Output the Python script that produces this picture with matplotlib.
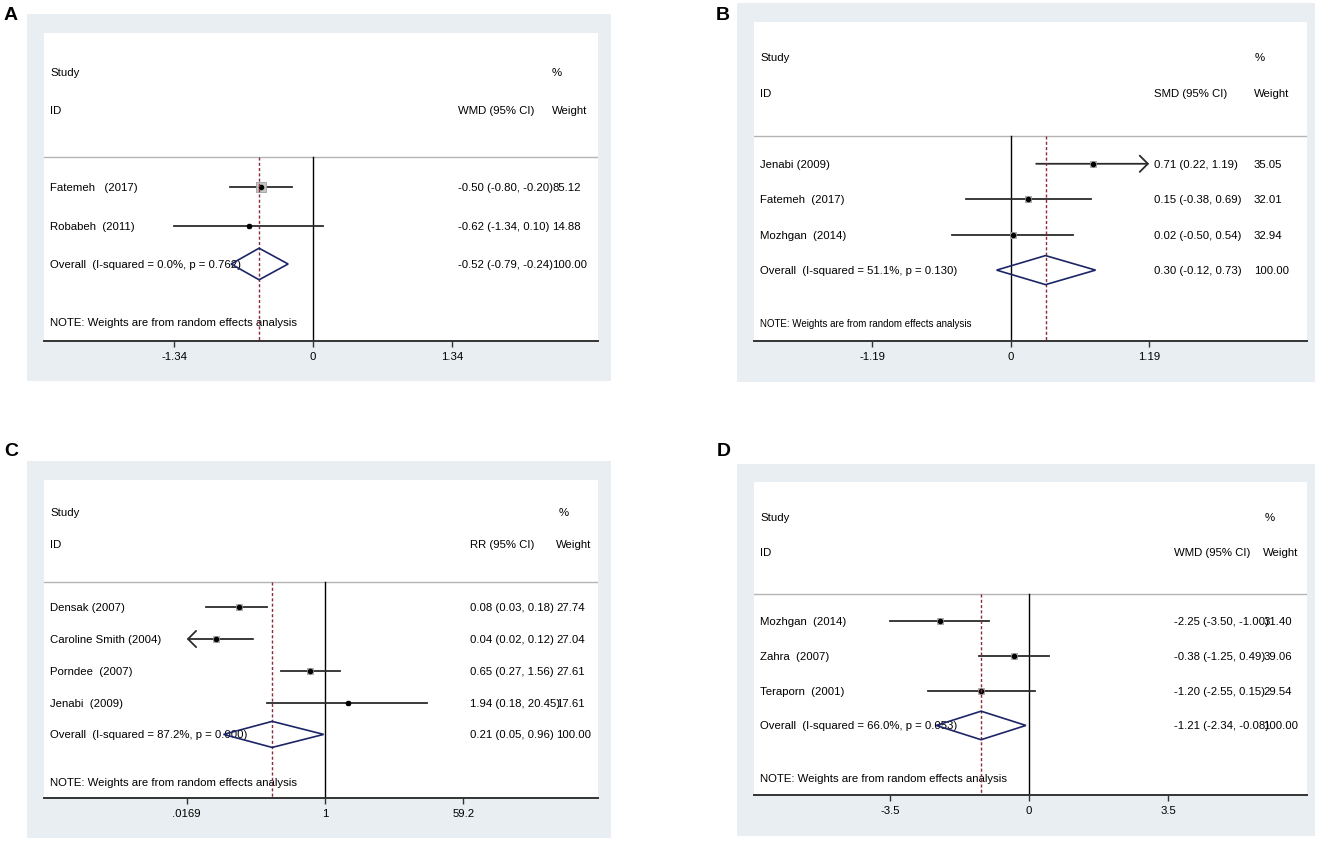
import numpy as np
import matplotlib.pyplot as plt
from matplotlib.patches import Rectangle, Polygon
import matplotlib.transforms as mtransforms

plt.rcParams['font.family'] = ['Liberation Sans', 'DejaVu Sans']

W, H = 1325, 845

# ---- panel A : WMD ----
studies_a = ['Fatemeh   (2017)', 'Robabeh  (2011)']
est_a = [-0.50, -0.62]
lo_a = [-0.80, -1.34]
hi_a = [-0.20, 0.10]
wt_a = [85.12, 14.88]
overall_a = [-0.52, -0.79, -0.24]
het_a = 'Overall  (I-squared = 0.0%, p = 0.762)'
ticks_a = [-1.34, 0, 1.34]
ticklab_a = ['-1.34', '0', '1.34']
arrow_a = [None, None]

# ---- panel B : SMD ----
studies_b = ['Jenabi (2009)', 'Fatemeh  (2017)', 'Mozhgan  (2014)']
est_b = [0.71, 0.15, 0.02]
lo_b = [0.22, -0.38, -0.50]
hi_b = [1.19, 0.69, 0.54]
wt_b = [35.05, 32.01, 32.94]
overall_b = [0.30, -0.12, 0.73]
het_b = 'Overall  (I-squared = 51.1%, p = 0.130)'
ticks_b = [-1.19, 0, 1.19]
ticklab_b = ['-1.19', '0', '1.19']
arrow_b = ['right', None, None]

# ---- panel C : RR ----
studies_c = ['Densak (2007)', 'Caroline Smith (2004)', 'Porndee  (2007)', 'Jenabi  (2009)']
est_c = [0.08, 0.04, 0.65, 1.94]
lo_c = [0.03, 0.02, 0.27, 0.18]
hi_c = [0.18, 0.12, 1.56, 20.45]
wt_c = [27.74, 27.04, 27.61, 17.61]
overall_c = [0.21, 0.05, 0.96]
het_c = 'Overall  (I-squared = 87.2%, p = 0.000)'
ticks_c = [0.0169, 1, 59.2]
ticklab_c = ['.0169', '1', '59.2']
arrow_c = [None, 'left', None, None]

# ---- panel D : WMD ----
studies_d = ['Mozhgan  (2014)', 'Zahra  (2007)', 'Teraporn  (2001)']
est_d = [-2.25, -0.38, -1.20]
lo_d = [-3.50, -1.25, -2.55]
hi_d = [-1.00, 0.49, 0.15]
wt_d = [31.40, 39.06, 29.54]
overall_d = [-1.21, -2.34, -0.08]
het_d = 'Overall  (I-squared = 66.0%, p = 0.053)'
ticks_d = [-3.5, 0, 3.5]
ticklab_d = ['-3.5', '0', '3.5']
arrow_d = [None, None, None]

note = 'NOTE: Weights are from random effects analysis'

BG = '#e8eef1'
CICOL = '#2b2b2b'
NAVY = '#1c2566'
RED = '#8c2a3a'
FS = 8.2

panels = [
    dict(tag='A', eff='WMD', studies=studies_a, est=est_a, lo=lo_a, hi=hi_a, wt=wt_a,
         ov=overall_a, het=het_a, ticks=ticks_a, ticklab=ticklab_a, arrow=arrow_a,
         log=False, xlim=(-2.594, 2.748), white=(44, 34, 598, 342), gray=(27, 15, 611, 382),
         lab=(11, 16), cols=(0.011, 0.747, 0.917, 0.917), notefs=FS),
    dict(tag='B', eff='SMD', studies=studies_b, est=est_b, lo=lo_b, hi=hi_b, wt=wt_b,
         ov=overall_b, het=het_b, ticks=ticks_b, ticklab=ticklab_b, arrow=arrow_b,
         log=False, xlim=(-2.204, 2.546), white=(754, 23, 1307, 342), gray=(737, 4, 1315, 383),
         lab=(723, 16), cols=(0.011, 0.723, 0.904, 0.906), notefs=7.0),
    dict(tag='C', eff='RR', studies=studies_c, est=est_c, lo=lo_c, hi=hi_c, wt=wt_c,
         ov=overall_c, het=het_c, ticks=ticks_c, ticklab=ticklab_c, arrow=arrow_c,
         log=True, xlim=(np.exp(-8.29), np.exp(8.05)), white=(44, 481, 598, 799), gray=(27, 462, 611, 839),
         lab=(11, 452), cols=(0.011, 0.769, 0.924, 0.929), notefs=FS),
    dict(tag='D', eff='WMD', studies=studies_d, est=est_d, lo=lo_d, hi=hi_d, wt=wt_d,
         ov=overall_d, het=het_d, ticks=ticks_d, ticklab=ticklab_d, arrow=arrow_d,
         log=False, xlim=(-6.93, 7.00), white=(754, 483, 1307, 796), gray=(737, 465, 1315, 837),
         lab=(724, 452), cols=(0.011, 0.759, 0.921, 0.924), notefs=FS),
]


def frac(box):
    x0, y0, x1, y1 = box
    return [x0 / W, 1 - y1 / H, (x1 - x0) / W, (y1 - y0) / H]


def draw_panel(fig, p):
    g = frac(p['gray'])
    fig.add_artist(Rectangle((g[0], g[1]), g[2], g[3], transform=fig.transFigure,
                             facecolor=BG, edgecolor='none', zorder=-1))
    fig.text(p['lab'][0] / W, 1 - p['lab'][1] / H, p['tag'], fontsize=14,
             fontweight='bold', ha='center', va='center')

    ax = fig.add_axes(frac(p['white']))
    ax.set_facecolor('white')
    n = len(p['studies'])
    if p['log']:
        ax.set_xscale('log')
    ax.set_xlim(*p['xlim'])
    ax.set_ylim(n + 3, -3)
    for s in ['top', 'left', 'right']:
        ax.spines[s].set_visible(False)
    ax.spines['bottom'].set_color('#333333')
    ax.spines['bottom'].set_linewidth(1.4)
    ax.set_yticks([])
    ax.set_xticks(p['ticks'])
    ax.set_xticklabels(p['ticklab'])
    ax.minorticks_off()
    ax.tick_params(axis='x', length=4, width=1, color='#333333', labelsize=FS, pad=3)

    null = 1 if p['log'] else 0
    cmin, cmax = min(p['ticks']), max(p['ticks'])
    top = 0.22
    ax.axhline(top, color='#b4b4b4', lw=1)
    ax.plot([null, null], [top, n + 3], color='black', lw=1.0, zorder=2)
    ov_est, ov_lo, ov_hi = p['ov']
    ax.plot([ov_est, ov_est], [top, n + 3], color=RED, lw=1.0, ls=(0, (2.2, 1.6)), zorder=5)

    for i in range(n):
        y = i + 1
        lo = max(p['lo'][i], cmin)
        hi = min(p['hi'][i], cmax)
        if p['arrow'][i] == 'right':
            ax.annotate('', xy=(cmax, y), xytext=(lo, y),
                        arrowprops=dict(arrowstyle='->,head_length=0.45,head_width=0.45',
                                        lw=1.3, color=CICOL, shrinkA=0, shrinkB=0,
                                        mutation_scale=13))
        elif p['arrow'][i] == 'left':
            ax.annotate('', xy=(cmin, y), xytext=(hi, y),
                        arrowprops=dict(arrowstyle='->,head_length=0.45,head_width=0.45',
                                        lw=1.3, color=CICOL, shrinkA=0, shrinkB=0,
                                        mutation_scale=13))
        else:
            ax.plot([lo, hi], [y, y], color=CICOL, lw=1.3, zorder=3)
        ax.scatter([p['est'][i]], [y], s=0.5 * p['wt'][i], marker='s', color='#c4c4c4',
                   edgecolor='#a0a0a0', linewidth=0.6, zorder=3.5)
        ax.plot([p['est'][i]], [y], 'o', ms=3.0, color='black', zorder=4)

    yo = n + 1
    ax.add_patch(Polygon([(ov_lo, yo), (ov_est, yo - 0.41), (ov_hi, yo), (ov_est, yo + 0.41)],
                         closed=True, fill=False, edgecolor=NAVY, lw=1.2, zorder=6))

    tr = mtransforms.blended_transform_factory(ax.transAxes, ax.transData)
    xs, xci, xw, xpct = p['cols']
    kw = dict(transform=tr, fontsize=FS, va='center', ha='left')
    ax.text(xs, -2, 'Study', **kw)
    ax.text(xs, -1, 'ID', **kw)
    ax.text(xpct, -2, '%', **kw)
    ax.text(xci, -1, p['eff'] + ' (95% CI)', **kw)
    ax.text(xw, -1, 'Weight', **kw)
    for i in range(n):
        y = i + 1
        ax.text(xs, y, p['studies'][i], **kw)
        ax.text(xci, y, '%.2f (%.2f, %.2f)' % (p['est'][i], p['lo'][i], p['hi'][i]), **kw)
        ax.text(xw, y, '%.2f' % p['wt'][i], **kw)
    ax.text(xs, yo, p['het'], **kw)
    ax.text(xci, yo, '%.2f (%.2f, %.2f)' % (ov_est, ov_lo, ov_hi), **kw)
    ax.text(xw, yo, '100.00', **kw)
    kw['fontsize'] = p['notefs']
    ax.text(xs, n + 2.5, note, **kw)


fig = plt.figure(figsize=(W / 100, H / 100), dpi=100)
fig.patch.set_facecolor('white')
for p in panels:
    draw_panel(fig, p)

fig.savefig('out.png', dpi=100)
